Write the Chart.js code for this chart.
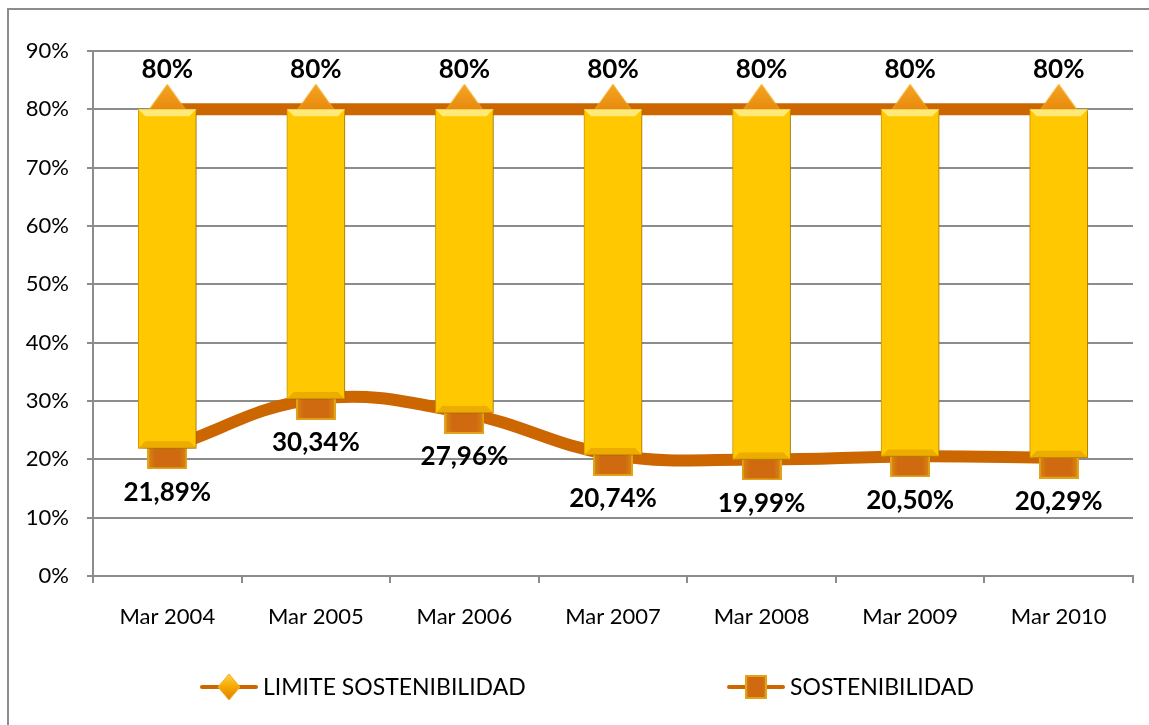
<!DOCTYPE html>
<html lang="es">
<head>
<meta charset="UTF-8">
<title>Sostenibilidad</title>
<script src="https://cdn.jsdelivr.net/npm/chart.js"></script>
<style>
    body { margin: 0; background: #fff; }
    #wrap { width: 1149px; height: 725px; position: relative; }
</style>
</head>
<body>
<div id="wrap"><canvas id="myChart"></canvas></div>

<script>
    // datos del grafico
    var categorias = ['Mar 2004', 'Mar 2005', 'Mar 2006', 'Mar 2007', 'Mar 2008', 'Mar 2009', 'Mar 2010'];
    var limite = [80, 80, 80, 80, 80, 80, 80];
    var sostenibilidad = [21.89, 30.34, 27.96, 20.74, 19.99, 20.50, 20.29];
    var ticksY = [0, 10, 20, 30, 40, 50, 60, 70, 80, 90];

    var naranja = '#CC6600';
    var fuente = 'Lato, "Open Sans", sans-serif';

    // marcador rombo (limite)
    function rombo(w, h, legend) {
        var c = document.createElement('canvas');
        c.width = w; c.height = h;
        var g = c.getContext('2d');
        var grd = g.createLinearGradient(0, 0, 0, h);
        if (legend) {
            grd.addColorStop(0, '#FFD54A');
            grd.addColorStop(0.5, '#F5A800');
            grd.addColorStop(1, '#E07A00');
        } else {
            grd.addColorStop(0, '#F6A623');
            grd.addColorStop(0.5, '#E98A0E');
            grd.addColorStop(1, '#C86A00');
        }
        g.beginPath();
        g.moveTo(w / 2, 1);
        g.lineTo(w - 1, h / 2);
        g.lineTo(w / 2, h - 1);
        g.lineTo(1, h / 2);
        g.closePath();
        g.fillStyle = grd;
        g.fill();
        g.lineWidth = 1;
        g.strokeStyle = '#F0B020';
        g.stroke();
        return c;
    }

    // marcador cuadrado (sostenibilidad)
    function cuadro(w, h) {
        var c = document.createElement('canvas');
        c.width = w; c.height = h;
        var g = c.getContext('2d');
        var grd = g.createLinearGradient(0, 0, w, 0);
        grd.addColorStop(0, '#D98A10');
        grd.addColorStop(0.2, '#D06A10');
        grd.addColorStop(0.8, '#D06A10');
        grd.addColorStop(1, '#D98A10');
        g.fillStyle = grd;
        g.fillRect(0, 0, w, h);
        g.lineWidth = 2;
        g.strokeStyle = '#E2A21A';
        g.strokeRect(1, 1, w - 2, h - 2);
        return c;
    }

    var imgRombo = rombo(38, 52, false);
    var imgCuadro = cuadro(40, 42);

    // barras flotantes entre los dos valores
    var barras = categorias.map(function(c, i) { return [sostenibilidad[i], limite[i]]; });

    function degradeBarra(context) {
        var chart = context.chart;
        var el = context.element;
        if (!el || !isFinite(el.x) || !isFinite(el.width)) return '#FFC800';
        var half = el.width / 2;
        var grd = chart.ctx.createLinearGradient(el.x - half, 0, el.x + half, 0);
        grd.addColorStop(0, '#E8A400');
        grd.addColorStop(0.12, '#FFC600');
        grd.addColorStop(0.5, '#FFCC00');
        grd.addColorStop(0.88, '#FFC600');
        grd.addColorStop(1, '#DDA000');
        return grd;
    }

    // borde exterior del grafico
    var marco = {
        id: 'marco',
        beforeDraw: function(chart) {
            var ctx = chart.ctx;
            ctx.save();
            ctx.fillStyle = '#fff';
            ctx.fillRect(0, 0, chart.width, chart.height);
            ctx.strokeStyle = '#8c8c8c';
            ctx.lineWidth = 2;
            ctx.strokeRect(8, 9, chart.width + 20, chart.height + 20);
            ctx.restore();
        }
    };

    // sombra y bisel de las barras
    var biselBarras = {
        id: 'biselBarras',
        beforeDatasetDraw: function(chart, args) {
            if (args.index !== 0) return;
            var ctx = chart.ctx;
            ctx.save();
            ctx.shadowColor = 'rgba(0,0,0,0.35)';
            ctx.shadowBlur = 6;
            ctx.shadowOffsetX = 2;
            ctx.shadowOffsetY = 2;
        },
        afterDatasetDraw: function(chart, args) {
            if (args.index !== 0) return;
            var ctx = chart.ctx;
            ctx.restore();
            ctx.save();
            args.meta.data.forEach(function(b) {
                var l = b.x - b.width / 2, r = b.x + b.width / 2;
                var top = Math.min(b.y, b.base), bot = Math.max(b.y, b.base);
                var d = 7;
                // bisel superior
                ctx.beginPath();
                ctx.moveTo(l, top);
                ctx.lineTo(r, top);
                ctx.lineTo(r - d, top + d);
                ctx.lineTo(l + d, top + d);
                ctx.closePath();
                ctx.fillStyle = 'rgba(255,240,140,0.85)';
                ctx.fill();
                // bisel inferior
                ctx.beginPath();
                ctx.moveTo(l, bot);
                ctx.lineTo(r, bot);
                ctx.lineTo(r - d, bot - d);
                ctx.lineTo(l + d, bot - d);
                ctx.closePath();
                ctx.fillStyle = 'rgba(220,150,0,0.55)';
                ctx.fill();
            });
            ctx.restore();
        }
    };

    // etiquetas de valores
    var etiquetas = {
        id: 'etiquetas',
        afterDatasetsDraw: function(chart) {
            var ctx = chart.ctx;
            ctx.save();
            ctx.font = 'bold 26px ' + fuente;
            ctx.fillStyle = '#000';
            ctx.textAlign = 'center';
            ctx.textBaseline = 'middle';
            chart.getDatasetMeta(1).data.forEach(function(p, i) {
                ctx.fillText(limite[i] + '%', p.x, p.y - 40);
            });
            chart.getDatasetMeta(2).data.forEach(function(p, i) {
                var txt = sostenibilidad[i].toFixed(2).replace('.', ',') + '%';
                ctx.fillText(txt, p.x, p.y + 44);
            });
            ctx.restore();
        }
    };

    // leyenda inferior
    var leyenda = {
        id: 'leyenda',
        afterDraw: function(chart) {
            var ctx = chart.ctx;
            var y = 687;
            var items = [
                { x: 200, img: rombo(24, 28, true), text: chart.data.datasets[1].label },
                { x: 727, img: cuadro(22, 24), text: chart.data.datasets[2].label }
            ];
            ctx.save();
            items.forEach(function(it) {
                ctx.strokeStyle = naranja;
                ctx.lineWidth = 4;
                ctx.lineCap = 'round';
                ctx.beginPath();
                ctx.moveTo(it.x + 2, y);
                ctx.lineTo(it.x + 56, y);
                ctx.stroke();
                ctx.drawImage(it.img, it.x + 29 - it.img.width / 2, y - it.img.height / 2);
                ctx.fillStyle = '#000';
                ctx.font = '23px ' + fuente;
                ctx.textBaseline = 'middle';
                ctx.textAlign = 'left';
                ctx.fillText(it.text, it.x + 63, y + 1);
            });
            ctx.restore();
        }
    };

    var ctx = document.getElementById('myChart').getContext('2d');
    var myChart = new Chart(ctx, {
        type: 'bar',
        data: {
            labels: categorias,
            datasets: [
                {
                    type: 'bar',
                    label: 'Rango',
                    data: barras,
                    backgroundColor: degradeBarra,
                    borderColor: '#E5A500',
                    borderWidth: 1,
                    borderSkipped: false,
                    barThickness: 58,
                    order: 0
                },
                {
                    type: 'line',
                    label: 'LIMITE SOSTENIBILIDAD',
                    data: limite,
                    borderColor: naranja,
                    borderWidth: 12,
                    pointStyle: imgRombo,
                    tension: 0,
                    order: 1
                },
                {
                    type: 'line',
                    label: 'SOSTENIBILIDAD',
                    data: sostenibilidad,
                    borderColor: naranja,
                    borderWidth: 12,
                    pointStyle: imgCuadro,
                    tension: 0.4,
                    order: 2
                }
            ]
        },
        options: {
            responsive: true,
            maintainAspectRatio: false,
            animation: false,
            layout: { padding: { top: 51, right: 14, left: 0, bottom: 0 } },
            plugins: {
                legend: { display: false },
                tooltip: { enabled: false }
            },
            scales: {
                x: {
                    grid: {
                        display: true,
                        drawOnChartArea: false,
                        offset: true,
                        tickLength: 7,
                        color: '#8c8c8c',
                        lineWidth: 2
                    },
                    border: { color: '#8c8c8c', width: 2 },
                    ticks: {
                        color: '#000',
                        padding: 21,
                        font: { family: fuente, size: 22 }
                    },
                    afterFit: function(scale) { scale.height = 149; }
                },
                y: {
                    min: 0,
                    max: 90,
                    afterBuildTicks: function(scale) {
                        scale.ticks = ticksY.map(function(v) { return { value: v }; });
                    },
                    grid: { color: '#8c8c8c', lineWidth: 2, tickLength: 6 },
                    border: { color: '#8c8c8c', width: 2 },
                    ticks: {
                        color: '#000',
                        padding: 18,
                        font: { family: fuente, size: 22 },
                        callback: function(v) { return v + '%'; }
                    },
                    afterFit: function(scale) { scale.width = 93; }
                }
            }
        },
        plugins: [marco, biselBarras, etiquetas, leyenda]
    });
</script>
</body>
</html>
